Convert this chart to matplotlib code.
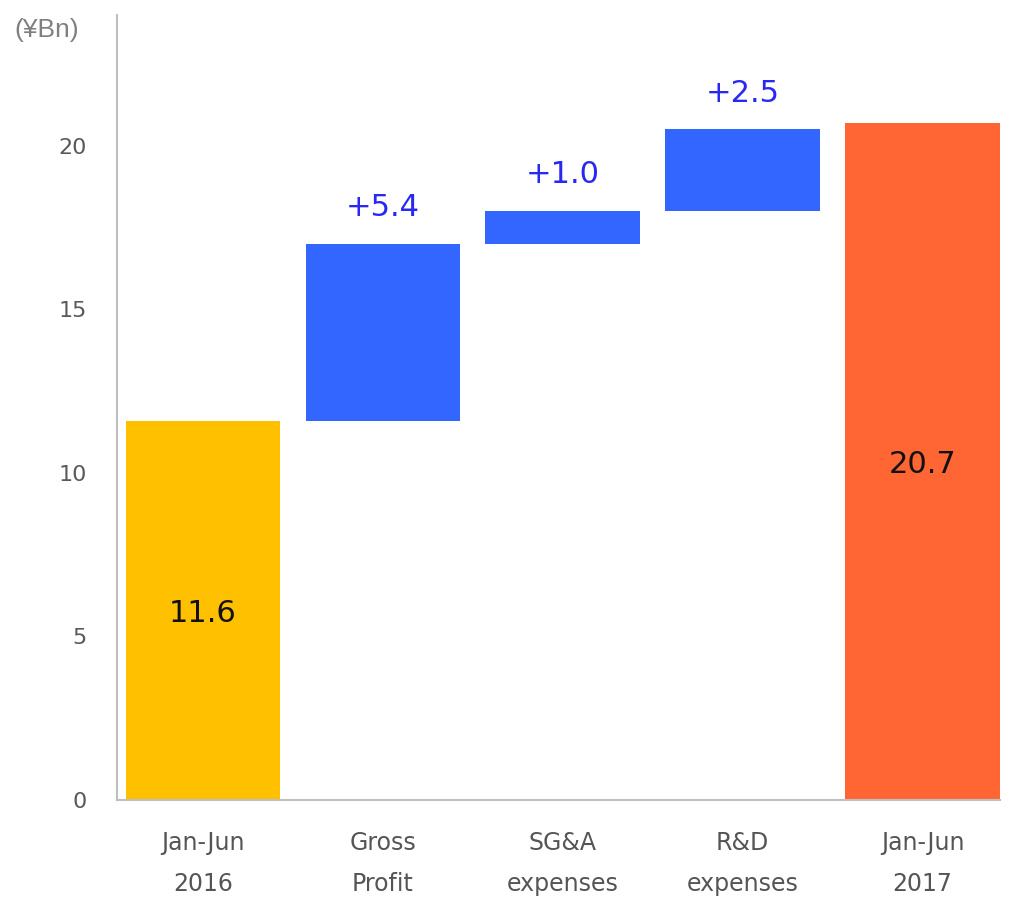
import matplotlib
matplotlib.use("Agg")
import matplotlib.pyplot as plt
import numpy as np

categories = ["Jan-Jun\n2016", "Gross\nProfit", "SG&A\nexpenses", "R&D\nexpenses", "Jan-Jun\n2017"]
start_value = 11.6
delta_values = [5.4, 1.0, 2.5]
delta_labels = ["+5.4", "+1.0", "+2.5"]
end_value = 20.7
y_ticks = [0, 5, 10, 15, 20]

colors = ["#FFC000", "#3366FF", "#3366FF", "#3366FF", "#FF6633"]

fig = plt.figure(figsize=(10.09, 9.01), dpi=100)
ax = fig.add_axes([117 / 1009, 101 / 901, 883 / 1009, 785 / 901])

x = np.arange(len(categories))
bottoms = [0.0]
heights = [start_value]
cum = start_value
for d in delta_values:
    bottoms.append(cum)
    heights.append(d)
    cum += d
bottoms.append(0.0)
heights.append(end_value)

ax.bar(x, heights, bottom=bottoms, width=0.86, color=colors, edgecolor="none", zorder=2)

# inside labels
ax.text(x[0], start_value / 2, f"{start_value:.1f}", ha="center", va="center_baseline",
        fontsize=22, color="#111111")
ax.text(x[-1], end_value / 2, f"{end_value:.1f}", ha="center", va="center_baseline",
        fontsize=22, color="#111111")

# delta labels
for i, (b, h, lab) in enumerate(zip(bottoms[1:4], heights[1:4], delta_labels)):
    ax.annotate(lab, xy=(x[i + 1], b + h), xytext=(0, 20), textcoords="offset points",
                ha="center", va="baseline", fontsize=22, color="#2828F2")

ax.set_xlim(-0.478, 4.43)
ax.set_ylim(0, 24)
ax.set_yticks(y_ticks)
ax.set_yticklabels([str(v) for v in y_ticks], fontsize=16, color="#595959")
ax.set_xticks(x)
ax.set_xticklabels(categories, fontsize=17, color="#555555", linespacing=1.9)
ax.tick_params(axis="both", length=0)
ax.tick_params(axis="y", pad=22)
ax.tick_params(axis="x", pad=22)

for s in ["top", "right"]:
    ax.spines[s].set_visible(False)
for s in ["left", "bottom"]:
    ax.spines[s].set_color("#BFBFBF")
    ax.spines[s].set_linewidth(1.5)

fig.text(14 / 1009, 1 - 30 / 901, "(¥Bn)", fontsize=19, color="#808080",
         family="Liberation Sans", ha="left", va="center")

fig.savefig("out.png", dpi=100, facecolor="white")
